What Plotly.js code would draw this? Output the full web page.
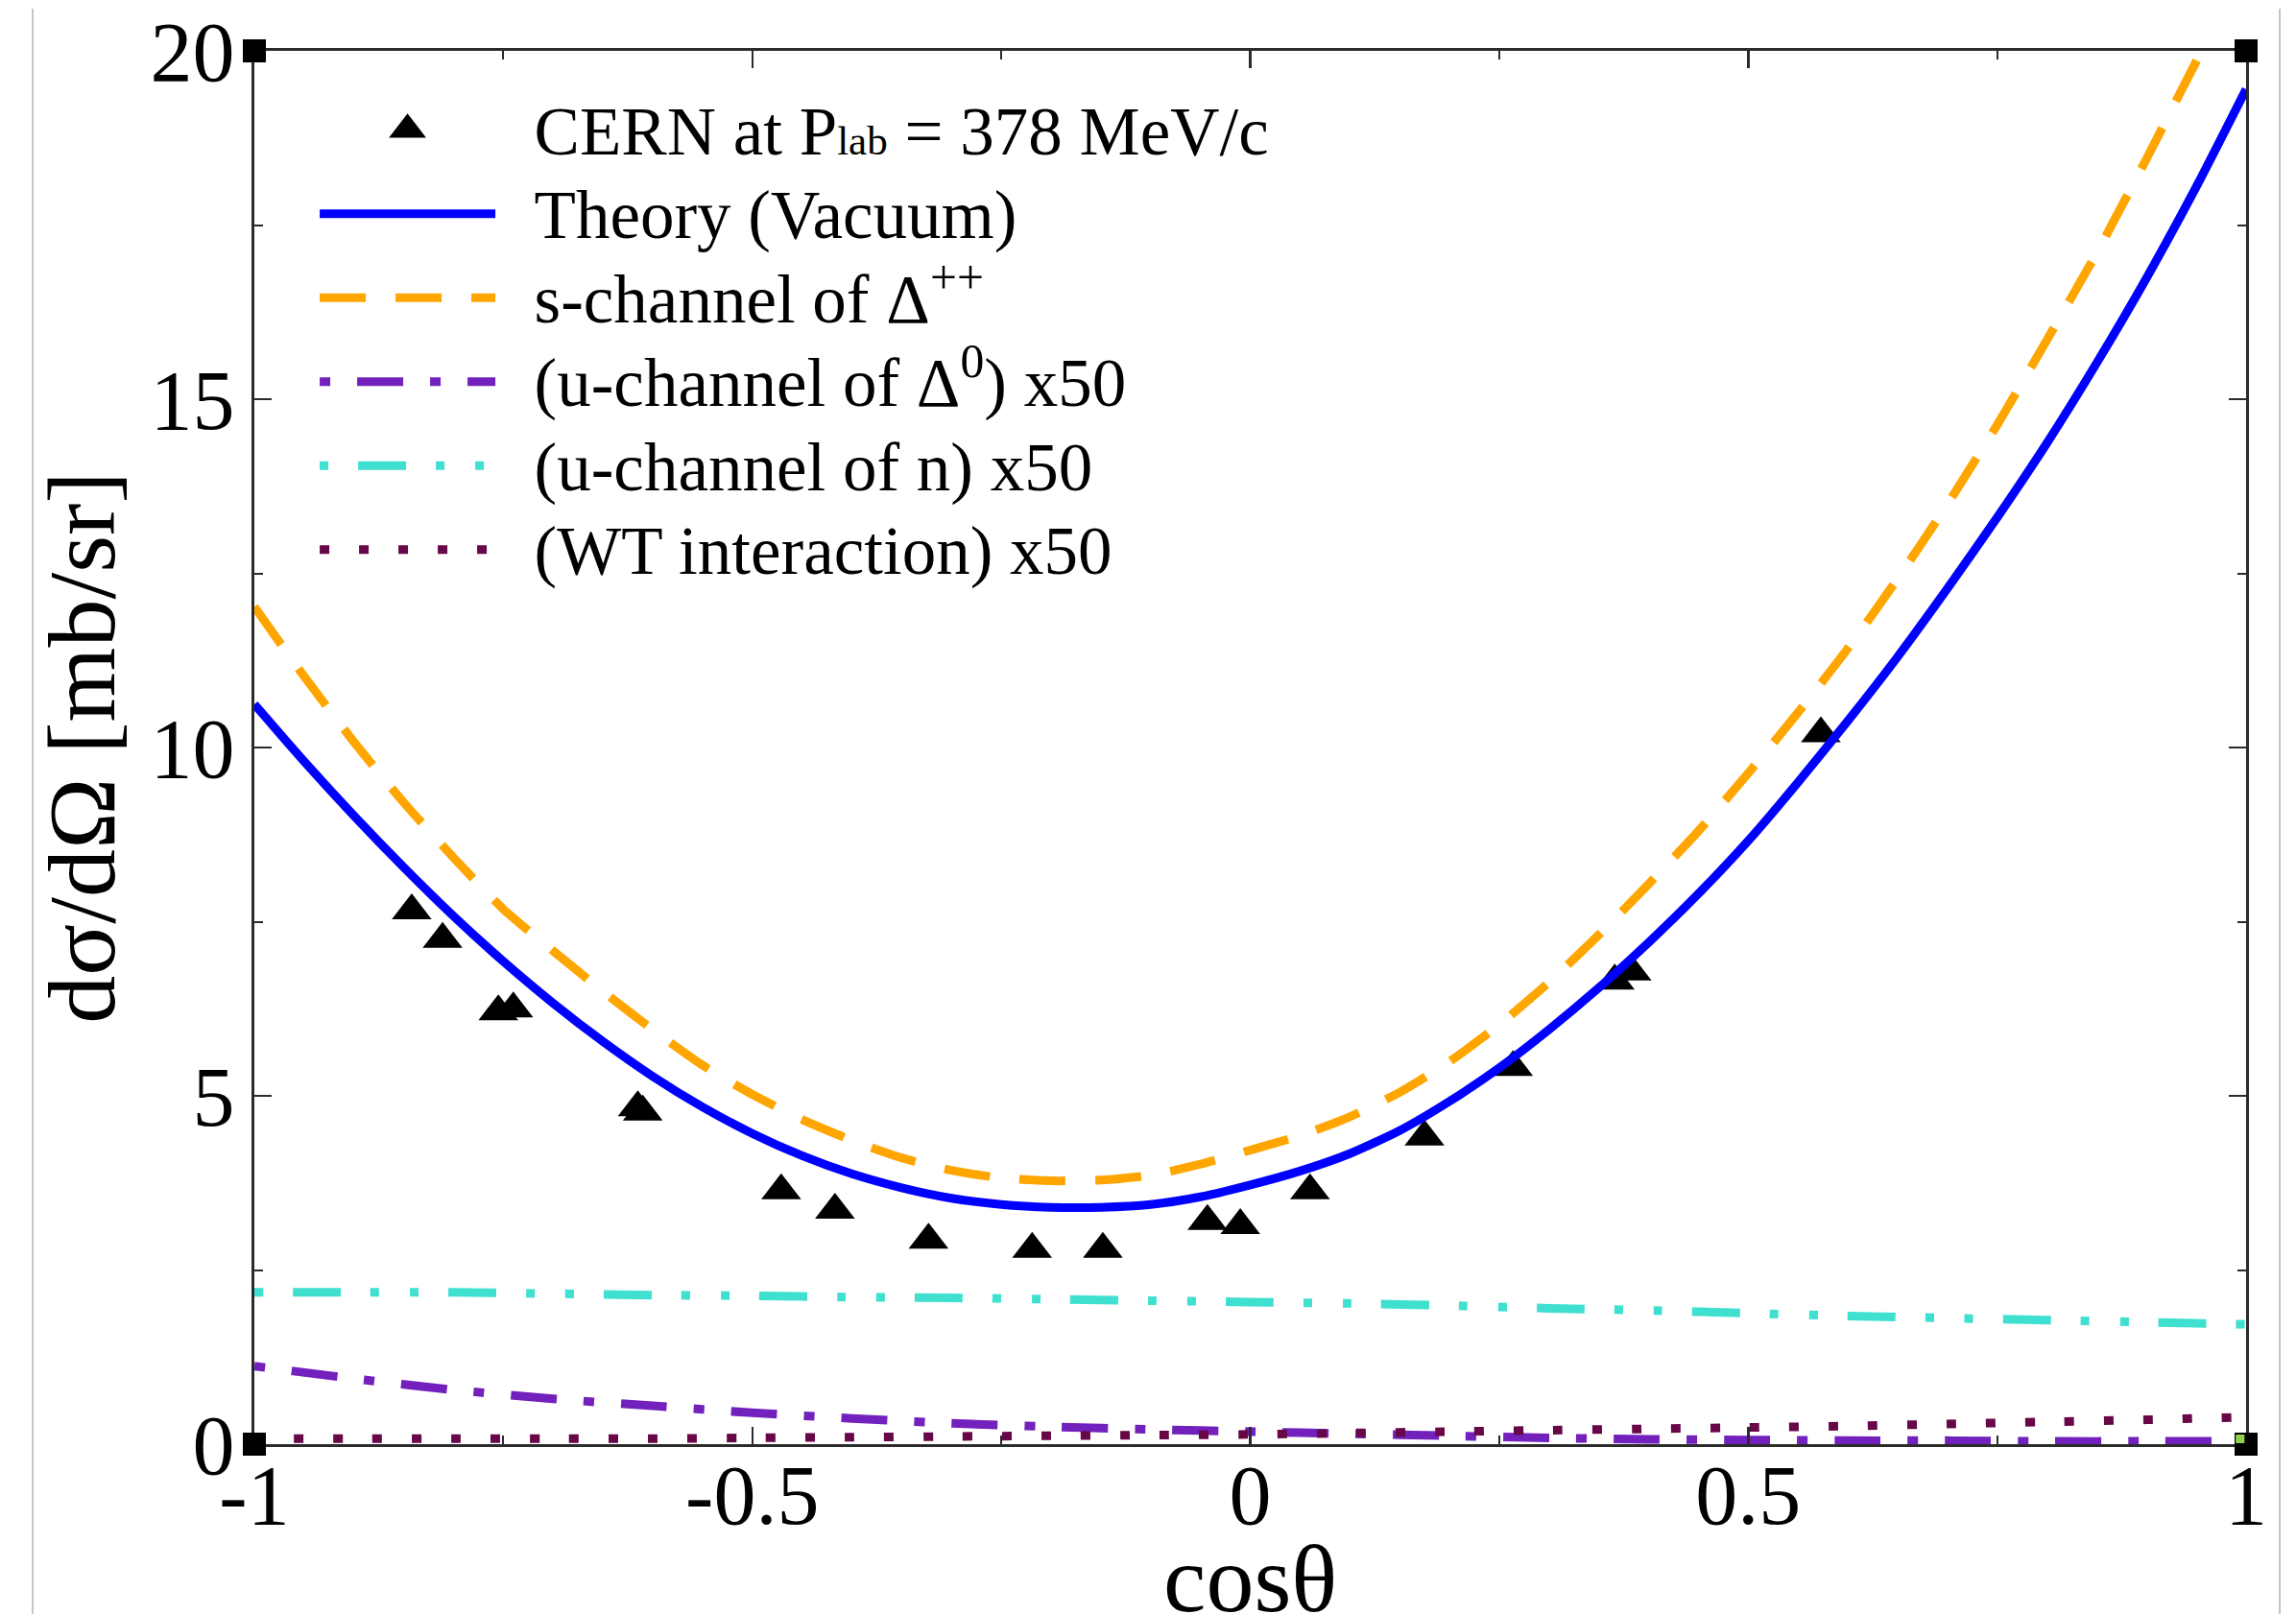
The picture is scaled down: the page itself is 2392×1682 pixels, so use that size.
<!DOCTYPE html>
<html>
<head>
<meta charset="utf-8">
<script src="https://cdn.plot.ly/plotly-3.0.1.min.js"></script>
<style>
  html, body { margin: 0; padding: 0; background: #ffffff; }
  #chart { width: 2392px; height: 1682px; }
</style>
</head>
<body>
<div id="chart"></div>
<script>
// cos(theta) grid of the two large model curves
const cosGrid = [-1, -0.95, -0.9, -0.85, -0.8, -0.75, -0.7, -0.65, -0.6, -0.55,
                 -0.5, -0.45, -0.4, -0.35, -0.3, -0.25, -0.2, -0.15, -0.1, -0.05,
                 0, 0.05, 0.1, 0.15, 0.2, 0.25, 0.3, 0.35, 0.4, 0.45,
                 0.5, 0.55, 0.6, 0.65, 0.7, 0.75, 0.8, 0.85, 0.9, 0.95, 1];

// full calculation in vacuum, dσ/dΩ in mb/sr
const theoryVacuum = [10.62, 9.80, 9.02, 8.28, 7.58, 6.93, 6.33, 5.78, 5.28, 4.84,
                      4.46, 4.14, 3.88, 3.68, 3.53, 3.44, 3.40, 3.40, 3.44, 3.55,
                      3.72, 3.92, 4.17, 4.50, 4.92, 5.40, 5.95, 6.55, 7.20, 7.90,
                      8.66, 9.50, 10.38, 11.30, 12.28, 13.30, 14.37, 15.52, 16.74, 18.05, 19.45];

// s-channel Δ++ contribution alone
const sChannelDelta = [12.02, 11.02, 10.08, 9.21, 8.42, 7.68, 7.08, 6.50, 5.95, 5.44,
                       5.02, 4.66, 4.36, 4.11, 3.93, 3.82, 3.78, 3.79, 3.86, 4.02,
                       4.22, 4.43, 4.70, 5.05, 5.49, 6.02, 6.63, 7.31, 8.04, 8.80,
                       9.63, 10.50, 11.42, 12.42, 13.49, 14.63, 15.85, 17.10, 18.45, 19.85, 21.20];

// cos(theta) grid of the small contributions (scaled by 50)
const cosGridCoarse = [-1, -0.9, -0.8, -0.7, -0.6, -0.5, -0.4, -0.3, -0.2, -0.1,
                       0, 0.1, 0.2, 0.3, 0.4, 0.5, 0.6, 0.7, 0.8, 0.9, 1];
const uChannelDelta0 = [1.12, 0.94, 0.78, 0.65, 0.55, 0.45, 0.37, 0.30, 0.25, 0.21,
                        0.18, 0.15, 0.12, 0.09, 0.07, 0.06, 0.05, 0.05, 0.04, 0.04, 0.04];
const uChannelNeutron = [2.18, 2.18, 2.18, 2.16, 2.14, 2.13, 2.11, 2.10, 2.08, 2.06,
                         2.04, 2.02, 1.99, 1.95, 1.92, 1.88, 1.84, 1.81, 1.78, 1.75, 1.72];
const wtInteraction = [0.08, 0.08, 0.08, 0.08, 0.08, 0.09, 0.10, 0.11, 0.12, 0.13,
                       0.14, 0.16, 0.18, 0.20, 0.22, 0.24, 0.26, 0.29, 0.32, 0.35, 0.39];

// CERN measurement at P_lab = 378 MeV/c
const cernCos = [-0.842, -0.811, -0.755, -0.740, -0.615, -0.610, -0.471, -0.417, -0.323,
                 -0.219, -0.148, -0.043, -0.010, 0.060, 0.175, 0.264, 0.366, 0.383, 0.573];
const cernXsec = [7.66, 7.25, 6.21, 6.25, 4.83, 4.77, 3.64, 3.36, 2.93,
                  2.80, 2.80, 3.20, 3.14, 3.64, 4.41, 5.41, 6.65, 6.78, 10.20];

// axis ticks
const xTickVals = [-1, -0.5, 0, 0.5, 1];
const xTickText = ['-1', '-0.5', '0', '0.5', '1'];
const xMinorVals = [-0.75, -0.25, 0.25, 0.75];
const yTickVals = [0, 5, 10, 15, 20];
const yTickText = ['0', '5', '10', '15', '20'];
const yMinorVals = [2.5, 7.5, 12.5, 17.5];

const SERIF = 'Liberation Serif, Times New Roman, serif';
const LW = 9;

// legend labels are set a little larger than the row pitch font
const big = s => '<span style="font-size:71px">\u2002' + s + '</span>';

const traces = [
  {
    x: cernCos, y: cernXsec, type: 'scatter', mode: 'markers',
    name: big('CERN at P<span style="font-size:43px">lab</span> = 378 MeV/c'),
    marker: { symbol: 'triangle-up', size: 36, color: '#000000' }
  },
  {
    x: cosGrid, y: theoryVacuum, type: 'scatter', mode: 'lines',
    name: big('Theory (Vacuum)'),
    line: { color: '#0000ff', width: LW, shape: 'spline', smoothing: 0.6 }
  },
  {
    x: cosGrid, y: sChannelDelta, type: 'scatter', mode: 'lines',
    name: big('s-channel of \u0394<sup>++</sup>'),
    line: { color: '#ffa500', width: LW, dash: '48px,31px', shape: 'spline', smoothing: 0.6 }
  },
  {
    x: cosGridCoarse, y: uChannelDelta0, type: 'scatter', mode: 'lines',
    name: big('(u-channel of \u0394<sup>0</sup>) x50'),
    line: { color: '#7221bc', width: LW, dash: '11px,28px,48px,28px', shape: 'spline', smoothing: 0.6 }
  },
  {
    x: cosGridCoarse, y: uChannelNeutron, type: 'scatter', mode: 'lines',
    name: big('(u-channel of n) x50'),
    line: { color: '#40e0d0', width: LW, dash: '9px,31px,50px,31px,9px,32px', shape: 'spline', smoothing: 0.6 }
  },
  {
    x: cosGridCoarse, y: wtInteraction, type: 'scatter', mode: 'lines',
    name: big('(WT interaction) x50'),
    line: { color: '#670748', width: LW, dash: '10px,31px', shape: 'spline', smoothing: 0.6 }
  }
];

// frame corner blocks and the thin page rules at the sides
const cx = 12 / 2075, cy = 12 / 1452;
const corners = [[0, 0], [1, 0], [0, 1], [1, 1]].map(([px, py]) => ({
  type: 'rect', xref: 'paper', yref: 'paper',
  x0: px - cx, x1: px + cx, y0: py - cy, y1: py + cy,
  fillcolor: '#000000', line: { width: 0 }
}));
const shapes = corners.concat([
  { type: 'rect', xref: 'paper', yref: 'paper', x0: 0.9948, x1: 0.9992, y0: 0.0007, y1: 0.0069,
    fillcolor: '#8fd14f', line: { width: 0 } },
  { type: 'line', xref: 'paper', yref: 'paper', x0: -0.1113, x1: -0.1113, y0: -0.125, y1: 1.0303,
    line: { color: '#c4c4c4', width: 2 } },
  { type: 'line', xref: 'paper', yref: 'paper', x0: 1.0169, x1: 1.0169, y0: -0.125, y1: 1.0303,
    line: { color: '#c4c4c4', width: 2 } }
]);

const axisCommon = {
  showline: true, linecolor: '#2b2b2b', linewidth: 3, mirror: 'allticks',
  ticks: 'inside', ticklen: 18, tickwidth: 2.5, tickcolor: '#2b2b2b',
  showgrid: false, zeroline: false,
  tickfont: { family: SERIF, size: 88, color: '#000000' },
  tickmode: 'array'
};

const layout = {
  width: 2392, height: 1682,
  margin: { l: 265, r: 52, t: 53, b: 177 },
  paper_bgcolor: '#ffffff', plot_bgcolor: '#ffffff',
  font: { family: SERIF, color: '#000000' },
  showlegend: true,
  legend: {
    x: 0.0304, y: 0.977, xanchor: 'left', yanchor: 'top',
    bgcolor: 'rgba(0,0,0,0)', borderwidth: 0,
    itemwidth: 183, traceorder: 'normal',
    font: { family: SERIF, size: 65, color: '#000000' }
  },
  xaxis: Object.assign({}, axisCommon, {
    range: [-1, 1], tickvals: xTickVals, ticktext: xTickText,
    ticklabelstandoff: -26,
    minor: { tickmode: 'array', tickvals: xMinorVals, ticks: 'inside', ticklen: 9, tickwidth: 2, tickcolor: '#2b2b2b' }
  }),
  yaxis: Object.assign({}, axisCommon, {
    range: [0, 20], tickvals: yTickVals, ticktext: yTickText,
    minor: { tickmode: 'array', tickvals: yMinorVals, ticks: 'inside', ticklen: 9, tickwidth: 2, tickcolor: '#2b2b2b' },
    title: { text: 'd\u03c3/d\u03a9 [mb/sr]', font: { family: SERIF, size: 100, color: '#000000' }, standoff: 4 }
  }),
  // x-axis title sits low at the page edge, so it is placed as a paper annotation
  annotations: [{
    text: 'cos\u03b8', xref: 'paper', yref: 'paper', x: 0.5, y: -0.0971,
    xanchor: 'center', yanchor: 'middle', showarrow: false,
    font: { family: SERIF, size: 100, color: '#000000' }
  }],
  shapes: shapes
};

Plotly.newPlot('chart', traces, layout, { displayModeBar: false, staticPlot: true }).then(gd => {
  // enlarge the legend triangle, which the legend otherwise caps at a small size
  gd.querySelectorAll('.legend .legendpoints path.scatterpts').forEach(p => {
    p.setAttribute('transform', (p.getAttribute('transform') || '') + ' scale(2.1)');
  });
});
</script>
</body>
</html>
